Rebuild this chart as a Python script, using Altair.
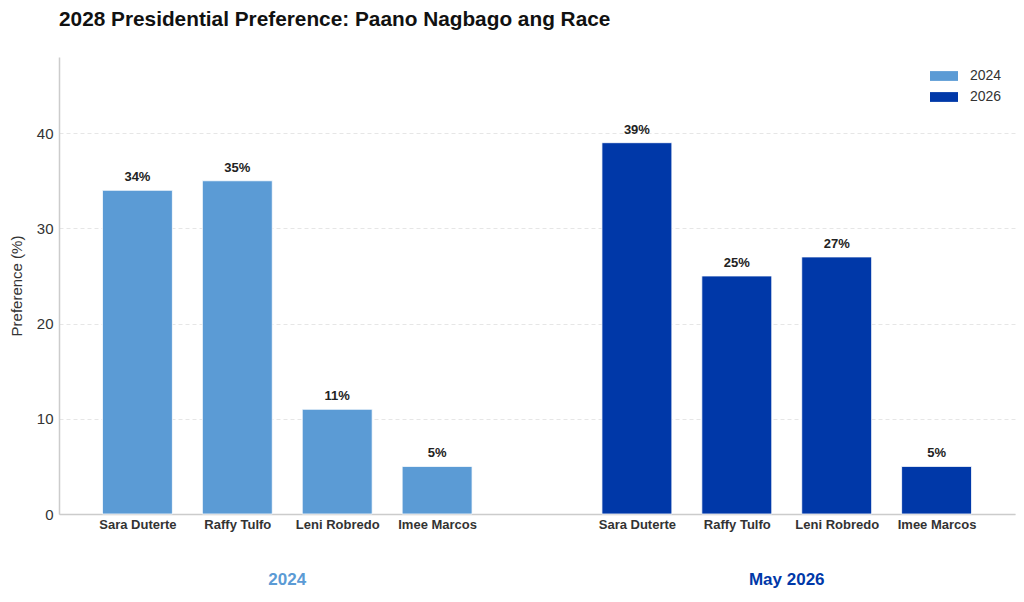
#!/usr/bin/env python3

"""2028 presidential preference, 2024 vs May 2026."""

import altair as alt
import pandas as pd

candidates = ["Sara Duterte", "Raffy Tulfo", "Leni Robredo", "Imee Marcos"]
pref_2024 = [34, 35, 11, 5]
pref_2026 = [39, 25, 27, 5]
years = ["2024", "2026"]
group_names = ["2024", "May 2026"]
year_colors = ["#5b9bd5", "#0038a8"]

FONT = "Liberation Sans"


def build_frames():
    rows = []
    for g, (year, values) in enumerate(zip(years, [pref_2024, pref_2026])):
        for i, (name, v) in enumerate(zip(candidates, values)):
            rows.append({"Candidate": name, "Year": year, "Value": v,
                         "pos": i + 5 * g})
    bars = pd.DataFrame(rows)
    groups = pd.DataFrame({
        "Group": group_names,
        "Year": years,
        "pos": [1.5, 6.5],
    })
    return bars, groups


def plot(bars, groups, output_filename):
    tick_pos = bars["pos"].tolist()
    label_map = "{" + ", ".join(
        f"'{p}': '{n}'" for p, n in zip(bars["pos"], bars["Candidate"])
    ) + "}"

    x_scale = alt.Scale(domain=[-0.785, 8.785], nice=False, zero=False)
    y_scale = alt.Scale(domain=[0, 48], nice=False)
    color = alt.Color(
        "Year:N",
        scale=alt.Scale(domain=years, range=year_colors),
        legend=alt.Legend(
            title=None, orient="none", legendX=878, legendY=12,
            symbolType="M-2,-0.7H2V0.7H-2Z", symbolSize=196,
            symbolStrokeWidth=0, labelOffset=19, rowPadding=7,
            labelFontSize=14, labelColor="#333333", labelFont=FONT,
        ),
    )

    base = alt.Chart(bars).transform_calculate(
        x0="datum.pos - 0.35", x1="datum.pos + 0.35"
    )

    bar = base.mark_bar(stroke="white", strokeWidth=0.8).encode(
        x=alt.X(
            "x0:Q", scale=x_scale, title=None,
            axis=alt.Axis(
                values=tick_pos, labelExpr=f"{label_map}[datum.value]",
                ticks=False, grid=False, domainColor="#cccccc",
                domainWidth=1.5, labelFontSize=13, labelFontWeight="bold",
                labelColor="#333333", labelFont=FONT, labelPadding=4,
                labelOverlap=False, labelFlush=False,
            ),
        ),
        x2="x1:Q",
        y=alt.Y(
            "Value:Q", scale=y_scale, title="Preference (%)",
            axis=alt.Axis(
                values=[0, 10, 20, 30, 40], ticks=False, grid=True,
                gridDash=[4, 3], gridColor="#e6e6e6", gridWidth=1,
                domainColor="#cccccc", domainWidth=1.5,
                labelFontSize=15, labelColor="#333333", labelFont=FONT,
                labelPadding=6, titleFontSize=15, titleFontWeight="normal",
                titleColor="#333333", titleFont=FONT, titlePadding=12,
            ),
        ),
        y2=alt.datum(0),
        color=color,
    )

    values = base.transform_calculate(
        label="datum.Value + '%'"
    ).mark_text(
        baseline="bottom", dy=-6, fontSize=13, fontWeight="bold",
        color="#222222", font=FONT,
    ).encode(
        x=alt.X("pos:Q", scale=x_scale),
        y=alt.Y("Value:Q", scale=y_scale),
        text="label:N",
    )

    group_text = alt.Chart(groups).mark_text(
        baseline="middle", fontSize=17, fontWeight="bold", font=FONT,
    ).encode(
        x=alt.X("pos:Q", scale=x_scale),
        y=alt.value(523),
        text="Group:N",
        color=alt.Color("Year:N", scale=alt.Scale(domain=years, range=year_colors),
                        legend=None),
    )

    chart = alt.layer(bar, values, group_text).properties(
        width=956,
        height=457,
        autosize=alt.AutoSizeParams(type="none"),
        padding={"left": 51, "top": 49, "right": 1, "bottom": 74},
        title=alt.TitleParams(
            text="2028 Presidential Preference: Paano Nagbago ang Race",
            anchor="start", frame="group", fontSize=20.8, fontWeight="bold",
            color="#111111", font=FONT, offset=26,
        ),
    ).configure_view(stroke=None)

    chart.save(output_filename, embed_options={"renderer": "svg", "actions": False})


def main():
    bars, groups = build_frames()
    plot(bars, groups, "out.html")


if __name__ == "__main__":
    main()
